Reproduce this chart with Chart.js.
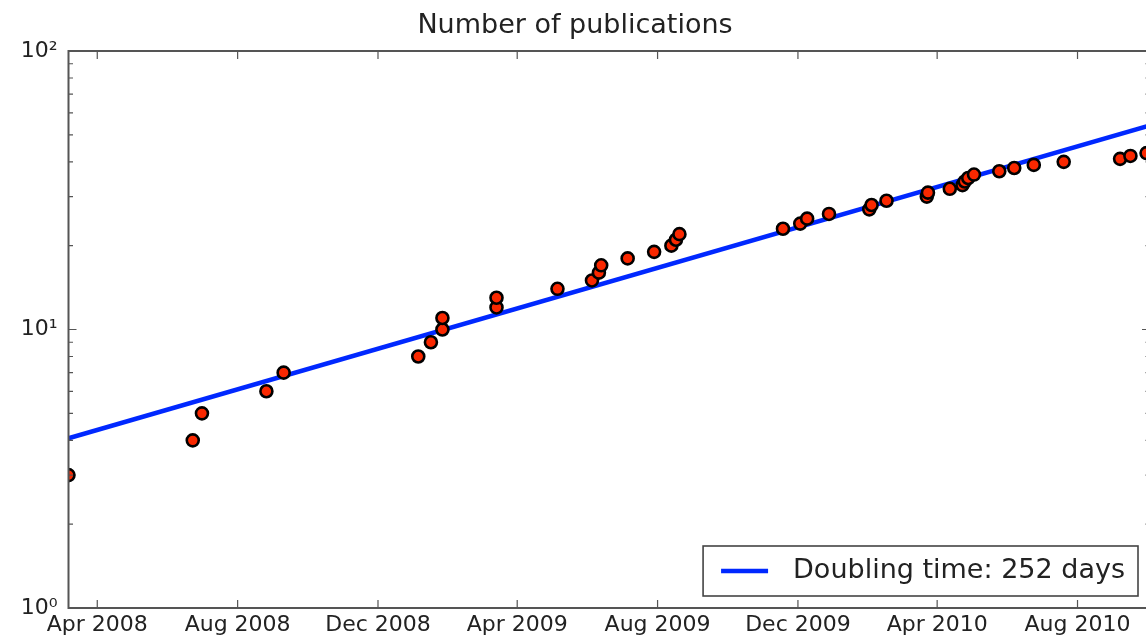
<!DOCTYPE html>
<html>
<head>
<meta charset="utf-8">
<title>Number of publications</title>
<script src="https://cdn.jsdelivr.net/npm/chart.js@4/dist/chart.umd.min.js"></script>
<style>
  html, body { margin: 0; padding: 0; background: #fff; overflow: hidden; }
  #wrap { width: 1160px; height: 640px; }
</style>
</head>
<body>
<div id="wrap"><canvas id="c" width="1160" height="640"></canvas></div>
<script>
// Publication dates and the cumulative count reached on each date
const pubDates = [
  '2008-03-07', '2008-06-23', '2008-07-01', '2008-08-26', '2008-09-10',
  '2009-01-05', '2009-01-16', '2009-01-26', '2009-01-26', '2009-03-14',
  '2009-03-14', '2009-05-06', '2009-06-05', '2009-06-11', '2009-06-13',
  '2009-07-06', '2009-07-29', '2009-08-13', '2009-08-17', '2009-08-20',
  '2009-11-18', '2009-12-03', '2009-12-09', '2009-12-28', '2010-02-01',
  '2010-02-03', '2010-02-16', '2010-03-23', '2010-03-24', '2010-04-12',
  '2010-04-23', '2010-04-25', '2010-04-28', '2010-05-03', '2010-05-25',
  '2010-06-07', '2010-06-24', '2010-07-20', '2010-09-07', '2010-09-16',
  '2010-09-30'
];
const pubCounts = [
  3, 4, 5, 6, 7,
  8, 9, 10, 11, 12,
  13, 14, 15, 16, 17,
  18, 19, 20, 21, 22,
  23, 24, 25, 26, 27,
  28, 29, 30, 31, 32,
  33, 34, 35, 36, 37,
  38, 39, 40, 41, 42,
  43
];

// Exponential fit: value at the start of the axis and doubling time in days
const fitStartValue = 4.07;
const doublingDays = 252;

// Axis range and tick marks
const xRange = ['2008-03-07', '2010-10-03'];
const xTickDates = ['2008-04-01', '2008-08-01', '2008-12-01', '2009-04-01',
                    '2009-08-01', '2009-12-01', '2010-04-01', '2010-08-01'];
const yTickValues = [1, 10, 100];
const yTickLabels = ['10\u2070', '10\u00b9', '10\u00b2'];
const monthNames = ['Jan','Feb','Mar','Apr','May','Jun','Jul','Aug','Sep','Oct','Nov','Dec'];

const FONT = 'DejaVu Sans';
const TEXT = '#222';

function dayNum(s) {
  const [y, m, d] = s.split('-').map(Number);
  return Date.UTC(y, m - 1, d) / 86400000;
}
function dayLabel(n) {
  const d = new Date(n * 86400000);
  return monthNames[d.getUTCMonth()] + ' ' + d.getUTCFullYear();
}

const xMin = dayNum(xRange[0]);
const xMax = dayNum(xRange[1]);
const xTicks = xTickDates.map(dayNum);

const pubPoints = pubDates.map((d, i) => ({ x: dayNum(d), y: pubCounts[i] }));
const fitLine = [
  { x: xMin, y: fitStartValue },
  { x: xMax, y: fitStartValue * Math.pow(2, (xMax - xMin) / doublingDays) }
];

// Axes frame with inward major/minor ticks
const framePlugin = {
  id: 'frame',
  afterDatasetsDraw(chart) {
    const { ctx, chartArea: a, scales } = chart;
    ctx.save();
    ctx.strokeStyle = '#555';
    ctx.lineWidth = 1.2;
    ctx.beginPath();
    scales.x.ticks.forEach(t => {
      const px = scales.x.getPixelForValue(t.value);
      ctx.moveTo(px, a.bottom); ctx.lineTo(px, a.bottom - 8);
      ctx.moveTo(px, a.top); ctx.lineTo(px, a.top + 8);
    });
    yTickValues.forEach(v => {
      const py = scales.y.getPixelForValue(v);
      ctx.moveTo(a.left, py); ctx.lineTo(a.left + 8, py);
      ctx.moveTo(a.right, py); ctx.lineTo(a.right - 8, py);
    });
    [1, 10].forEach(dec => {
      for (let k = 2; k <= 9; k++) {
        const py = scales.y.getPixelForValue(k * dec);
        ctx.moveTo(a.left, py); ctx.lineTo(a.left + 4.5, py);
        ctx.moveTo(a.right, py); ctx.lineTo(a.right - 4.5, py);
      }
    });
    ctx.stroke();
    ctx.strokeStyle = '#555';
    ctx.lineWidth = 2;
    ctx.strokeRect(a.left, a.top, a.right - a.left, a.bottom - a.top);
    ctx.restore();
  }
};

// Boxed legend in the lower right corner of the plot
const boxLegendPlugin = {
  id: 'boxLegend',
  afterDraw(chart) {
    const { ctx, chartArea: a } = chart;
    const ds = chart.data.datasets[1];
    ctx.save();
    ctx.font = '27px "' + FONT + '"';
    const tw = ctx.measureText(ds.label).width;
    const right = a.right - 12, bottom = a.bottom - 12;
    const h = 50;
    const w = 90 + tw + 13;
    const left = right - w, top = bottom - h;
    ctx.fillStyle = '#fff';
    ctx.fillRect(left, top, w, h);
    ctx.strokeStyle = '#444';
    ctx.lineWidth = 1.6;
    ctx.strokeRect(left, top, w, h);
    const cy = top + h / 2;
    ctx.strokeStyle = ds.borderColor;
    ctx.lineWidth = ds.borderWidth;
    ctx.beginPath();
    ctx.moveTo(left + 18, cy); ctx.lineTo(left + 65, cy);
    ctx.stroke();
    ctx.fillStyle = TEXT;
    ctx.textAlign = 'left';
    ctx.textBaseline = 'middle';
    ctx.fillText(ds.label, left + 90, cy);
    ctx.restore();
  }
};

new Chart(document.getElementById('c'), {
  type: 'scatter',
  data: {
    datasets: [
      {
        label: 'Publications',
        data: pubPoints,
        pointRadius: 6,
        pointHoverRadius: 6,
        pointBackgroundColor: 'rgb(250,40,0)',
        pointBorderColor: '#000',
        pointBorderWidth: 2.6,
        showLine: false,
        order: 0,
        clip: 0
      },
      {
        type: 'line',
        label: 'Doubling time: ' + doublingDays + ' days',
        data: fitLine,
        borderColor: 'rgb(0,40,255)',
        borderWidth: 4.5,
        pointRadius: 0,
        fill: false,
        tension: 0,
        order: 1,
        clip: 0
      }
    ]
  },
  options: {
    responsive: false,
    animation: false,
    devicePixelRatio: 1,
    layout: { padding: { left: 0, right: 10, top: 0, bottom: 0 } },
    plugins: {
      legend: { display: false },
      tooltip: { enabled: false },
      title: {
        display: true,
        text: 'Number of publications',
        color: TEXT,
        font: { family: FONT, size: 27, weight: 'normal', lineHeight: 1.2 },
        padding: { top: 10, bottom: 8.6 }
      }
    },
    scales: {
      x: {
        type: 'linear',
        min: xMin,
        max: xMax,
        grid: { display: false, drawTicks: false },
        border: { display: false },
        afterBuildTicks: s => { s.ticks = xTicks.map(v => ({ value: v })); },
        afterFit: s => { s.height = 32; },
        ticks: {
          autoSkip: false, maxRotation: 0, minRotation: 0, padding: 4,
          color: TEXT, font: { family: FONT, size: 22 },
          callback: v => dayLabel(v)
        }
      },
      y: {
        type: 'logarithmic',
        min: 1,
        max: 100,
        grid: { display: false, drawTicks: false },
        border: { display: false },
        afterBuildTicks: s => { s.ticks = yTickValues.map(v => ({ value: v })); },
        afterFit: s => { s.width = 68.5; },
        ticks: {
          padding: 11, color: TEXT, font: { family: FONT, size: 22 },
          callback: (v, i) => yTickLabels[yTickValues.indexOf(v)]
        }
      }
    }
  },
  plugins: [framePlugin, boxLegendPlugin]
});
</script>
</body>
</html>
